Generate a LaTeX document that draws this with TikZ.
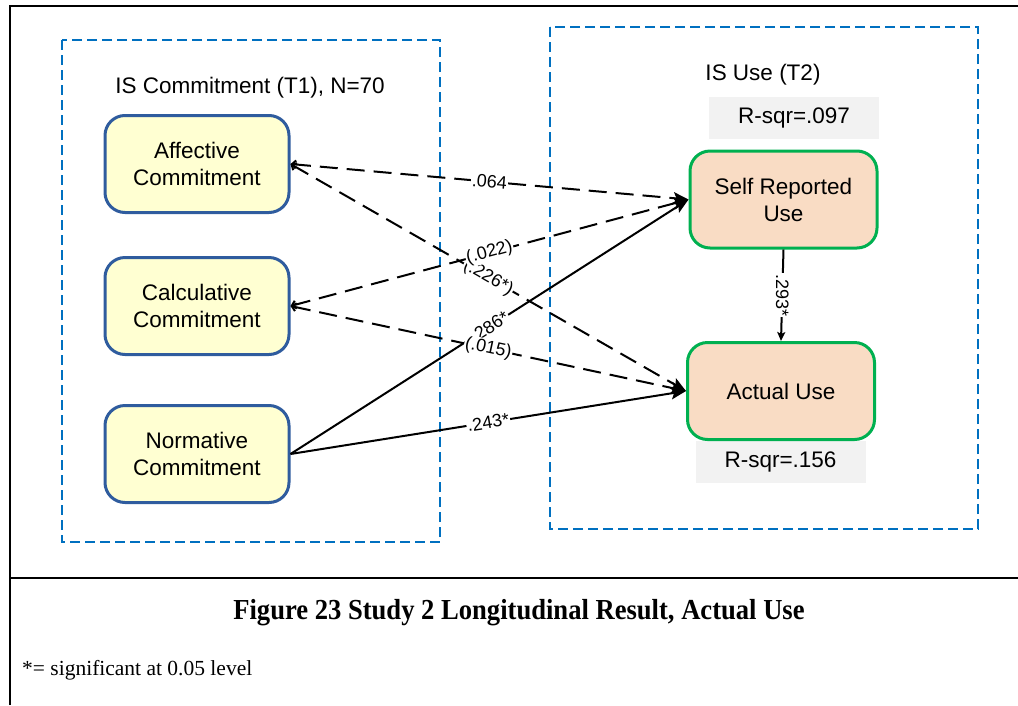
\documentclass[tikz,border=0pt]{standalone}
\usepackage{fontspec}
\setmainfont{Liberation Sans}
\newfontfamily\capfont{Liberation Serif}
\usetikzlibrary{arrows.meta}

\definecolor{groupblue}{HTML}{0070C0}
\definecolor{causeline}{HTML}{2F5C9E}
\definecolor{causefill}{HTML}{FFFFD2}
\definecolor{effectline}{HTML}{00B050}
\definecolor{effectfill}{HTML}{F9DCC4}
\definecolor{rsqfill}{HTML}{F2F2F2}

\tikzset{
  group/.style={draw=groupblue, line width=2pt, dash pattern=on 10pt off 5pt},
  boxtext/.style={font=\fontsize{22.5}{27}\selectfont},
  cause/.style={boxtext, draw=causeline, fill=causefill, line width=3pt,
    rounded corners=20pt, minimum width=184pt, minimum height=97pt, align=center},
  effect/.style={boxtext, draw=effectline, fill=effectfill, line width=3pt,
    rounded corners=20pt, minimum width=187pt, minimum height=97pt, align=center},
  rsq/.style={boxtext, fill=rsqfill, minimum width=170pt, minimum height=42pt},
  link/.style={line width=2pt, -{Stealth[length=15pt,width=12pt,inset=3pt]}},
  dlink/.style={link, {Straight Barb[length=4pt,width=8pt]}-{Stealth[length=15pt,width=12pt,inset=3pt]},
    dash pattern=on 18pt off 9pt},
  coeftext/.style={fill=white, inner sep=1pt, font=\fontsize{18}{20}\selectfont},
  coef/.style={coeftext, sloped},
}

\begin{document}
\begin{tikzpicture}[x=1pt, y=-1pt]
\useasboundingbox (0,0) rectangle (1018,705);

% page frame and caption rule
\draw[line width=2pt] (10,705) -- (10,6) -- (1018,6);
\draw[line width=2pt] (10,578) -- (1018,578);

% measurement groups
\draw[group] (62,40) rectangle (440,542);
\draw[group] (550,27) rectangle (978,529);
\node[boxtext] (t1) at (250,88) {IS Commitment (T1), N=70};
\node[boxtext] (t2) at (763,75) {IS Use (T2)};

% explained variance
\node[rsq] (r1) at (794,118) {R-sqr=.097};
\node[rsq] (r2) at (780.5,461.5) {R-sqr=.156};

% constructs
\node[cause] (aff)  at (197,164) {Affective\\Commitment};
\node[cause] (calc) at (197,306) {Calculative\\Commitment};
\node[cause] (norm) at (197,454) {Normative\\Commitment};
\node[effect] (self) at (783.5,199.5) {Self Reported\\Use};
\node[effect] (act)  at (781,391) {Actual Use};

% paths: significant ones solid, others dashed
\draw[link] (norm.east) -- node[coef] {.286*} (self.west);
\draw[link] (norm.east) -- node[coef] {.243*} (act.west);
\draw[dlink] (aff.east) -- node[coef] {.064} (self.west);
\draw[dlink] (aff.east) -- node[coef] {(.226*)} (act.west);
\draw[dlink] (calc.east) -- node[coef] {(.022)} (self.west);
\draw[dlink] (calc.east) -- node[coef] {(.015)} (act.west);
\draw[line width=2pt, -{Stealth[length=9pt,width=8pt,inset=2pt]}] (self.south) -- node[coeftext, rotate=-90] {.293*} (act.north);

% caption and note
\node[font=\capfont\bfseries\fontsize{29}{32}\selectfont] (cap) at (519,613) {\scalebox{0.917}[1]{Figure 23 Study 2 Longitudinal Result, Actual Use}};
\node[font=\capfont\fontsize{21.5}{25}\selectfont, anchor=west, inner sep=0pt] (note) at (22,670) {*= significant at 0.05 level};
\end{tikzpicture}
\end{document}
